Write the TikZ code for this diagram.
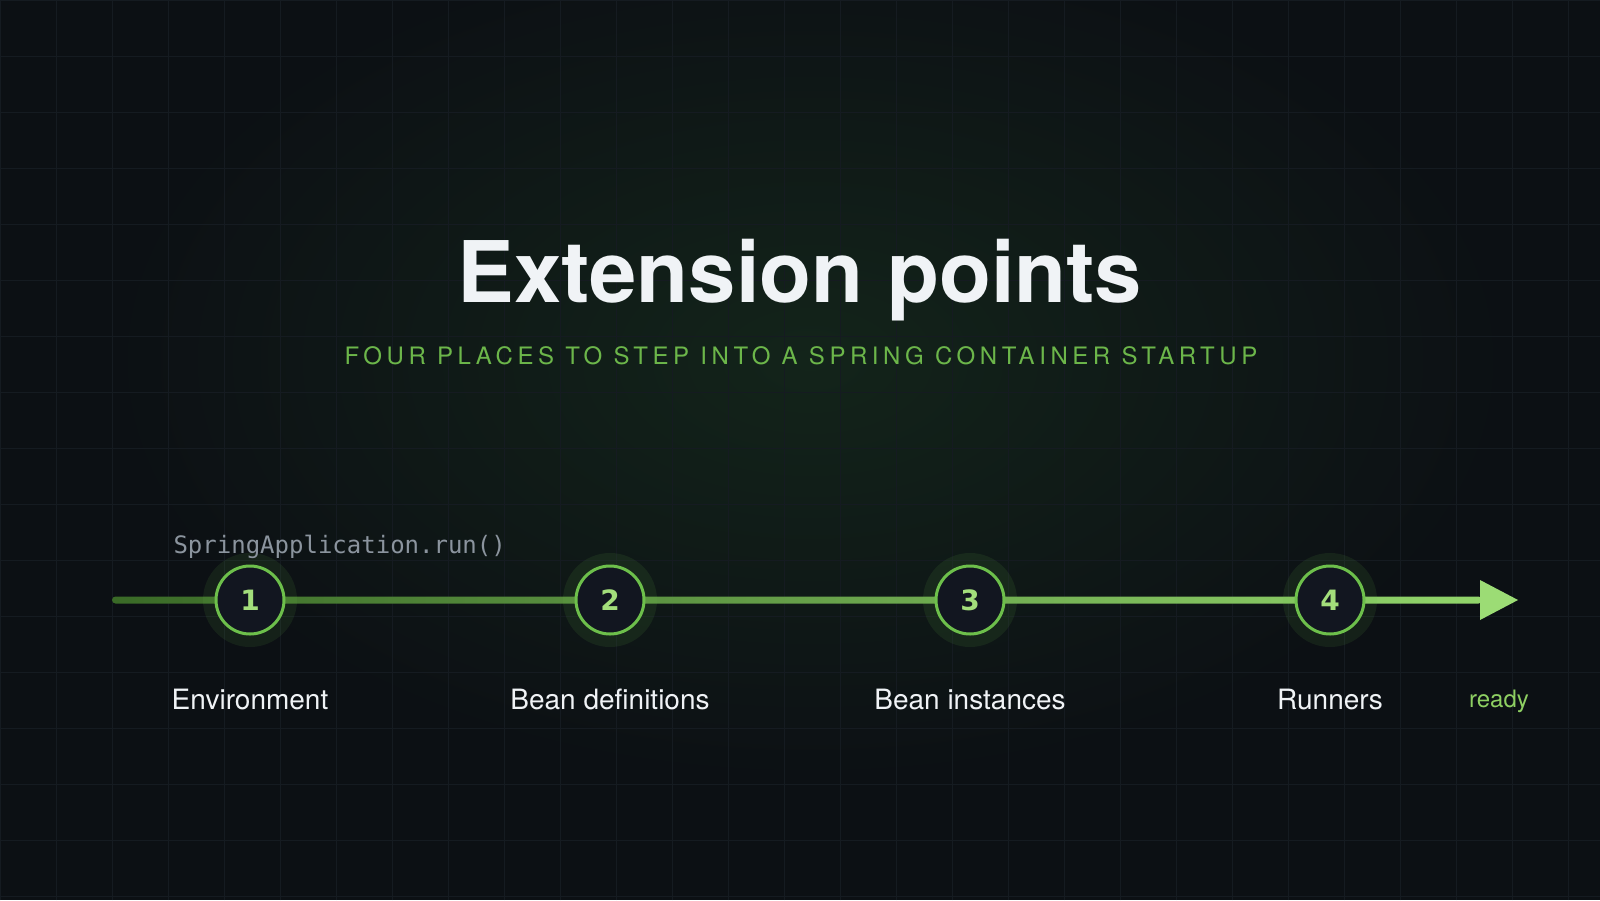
\documentclass[tikz,border=0pt]{standalone}
\usepackage{fontspec}
\setmainfont{TeX Gyre Heros}
\newfontfamily\monofont{DejaVu Sans Mono}
\newfontfamily\numfont{DejaVu Sans}
\newfontfamily\capsfont[LetterSpace=19]{TeX Gyre Heros}
\usepackage{tikz}
\usetikzlibrary{positioning}

\definecolor{bgdark}{HTML}{0C1014}
\definecolor{glowgreen}{HTML}{13241A}
\definecolor{gridline}{HTML}{151B21}
\definecolor{nodefill}{HTML}{121620}
\definecolor{ringgreen}{HTML}{6DBF4B}
\definecolor{numgreen}{HTML}{A3DE7B}
\definecolor{labelwhite}{HTML}{F0F3F6}
\definecolor{subgreen}{HTML}{6CB64A}
\definecolor{codegray}{HTML}{8B949E}
\definecolor{readygreen}{HTML}{8ECF62}
\definecolor{arrowgreen}{HTML}{9CDC75}
\definecolor{lineleft}{HTML}{3A6A27}
\definecolor{lineright}{HTML}{92D56B}

\begin{document}
\begin{tikzpicture}[x=1pt,y=-1pt,
    stepnode/.style={circle, minimum size=68pt, inner sep=0pt, fill=nodefill,
      draw=ringgreen, line width=3pt, text=numgreen,
      font=\numfont\bfseries\fontsize{28}{28}\selectfont},
    halo/.style={fill=ringgreen, fill opacity=0.1},
    steplabel/.style={text=labelwhite, font=\fontsize{28}{28}\selectfont}]
        \useasboundingbox (0,0) rectangle (1600,900);
        \fill[bgdark] (0,0) rectangle (1600,900);
        \shade[inner color=glowgreen, outer color=bgdark] (810,360) ellipse (700pt and 420pt);
        \draw[gridline, line width=0.8pt, step=56pt] (0,0) grid (1600,900);

        \node[text=labelwhite, font=\bfseries\fontsize{85}{85}\selectfont, anchor=base] (title) at (800,302) {Extension points};
        \node[text=subgreen, font=\capsfont\fontsize{24}{24}\selectfont, anchor=base] (sub) at (801,364) {FOUR PLACES TO STEP INTO A SPRING CONTAINER STARTUP};

        % timeline
        \coordinate (tl start) at (112,600);
        \coordinate (tl end) at (1482,600);
        \shade[left color=lineleft, right color=lineright, rounded corners=3.5pt] ([yshift=3.5pt]tl start) rectangle ([yshift=-3.5pt]tl end);
        \fill[arrowgreen] (tl end) ++(-2,-20) -- ++(38,20) -- ++(-38,20) -- cycle;

        \foreach \i/\x/\name in {1/250/Environment, 2/610/Bean definitions, 3/970/Bean instances, 4/1330/Runners} {
            \fill[halo] (\x,600) circle (47pt);
            \node[stepnode] (c\i) at (\x,600) {\i};
            \node[steplabel] (l\i) at (\x,699) {\name};
        }

        \node[text=codegray, font=\monofont\fontsize{24}{24}\selectfont, anchor=base west] (run) at (170,553) {SpringApplication.run()};
        \node[text=readygreen, font=\fontsize{24}{24}\selectfont] (ready) at (1499,701) {ready};
\end{tikzpicture}
\end{document}
